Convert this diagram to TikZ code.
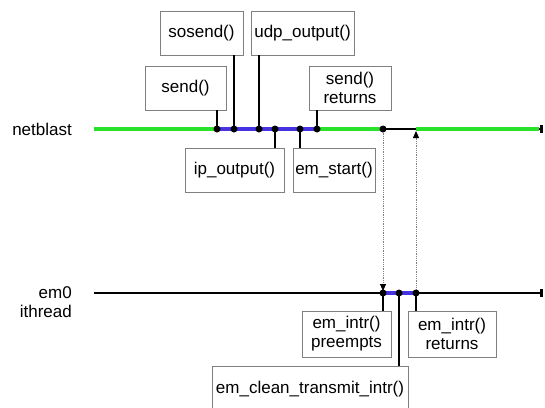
\documentclass[tikz,border=0pt]{standalone}
\usepackage{fontspec}
\setmainfont{Liberation Sans}
\usetikzlibrary{arrows.meta}
\definecolor{runcol}{RGB}{40,225,40}
\definecolor{kerncol}{RGB}{70,50,225}
\tikzset{
fn/.style={draw=gray,fill=white,line width=0.8pt,inner sep=0pt,minimum height=44pt,align=center,font=\fontsize{17}{19}\selectfont},
lbl/.style={inner sep=0pt,align=right,font=\fontsize{17}{19}\selectfont},
thread/.style={line width=2pt,draw=black,-{Rectangle[length=3pt,width=8pt]}},
running/.style={line width=4.5pt,draw=runcol},
inkernel/.style={line width=4.5pt,draw=kerncol},
tick/.style={line width=2pt,draw=black},
handoff/.style={densely dotted,draw=gray,line width=0.8pt,shorten >=2pt,
  -{Triangle[length=7pt,width=6pt,color=black,fill=black]}},
}
\tikzstyle{calldot} = [circle, minimum width=7pt, fill, inner sep=0pt]

\begin{document}
\begin{tikzpicture}[x=1pt,y=-1pt]
\useasboundingbox (0,0) rectangle (545,407);
\clip (0,0) rectangle (545,407);

% threads
\node[lbl,anchor=east] (netblast) at (72,129) {netblast};
\node[lbl,anchor=east] (em0) at (72,302) {em0\\ithread};
\coordinate (nb0) at (94,129);
\coordinate (nb1) at (543,129);
\coordinate (it0) at (94,293);
\coordinate (it1) at (543,293);

% call points
\coordinate (p1) at (217,129);
\coordinate (p2) at (234,129);
\coordinate (p3) at (259,129);
\coordinate (p4) at (275,129);
\coordinate (p5) at (300,129);
\coordinate (p6) at (317,129);
\coordinate (p7) at (383,129);
\coordinate (p8) at (416,129);
\coordinate (q1) at (383,293);
\coordinate (q2) at (399,293);
\coordinate (q3) at (416,293);

\draw[thread] (nb0) -- (nb1);
\draw[thread] (it0) -- (it1);
\draw[running] (nb0) -- (p7);
\draw[running] (p8) -- (539,129);
\draw[inkernel] (p1) -- (p6);
\draw[inkernel] (q1) -- (q3);

% boxes
\node[fn,minimum width=81pt] (send) at (185.5,88) {send()};
\node[fn,minimum width=83pt] (sosend) at (201.5,33) {sosend()};
\node[fn,minimum width=103pt] (udp) at (302.5,33) {udp\_output()};
\node[fn,minimum width=82pt] (sendret) at (350,88) {send()\\returns};
\node[fn,minimum width=99pt] (ip) at (234.5,170.5) {ip\_output()};
\node[fn,minimum width=82pt] (start) at (334,170.5) {em\_start()};
\node[fn,minimum width=89pt,minimum height=46pt] (preempt) at (346.5,334) {em\_intr()\\preempts};
\node[fn,minimum width=88pt,minimum height=46pt] (intret) at (452,334) {em\_intr()\\returns};
\node[fn,minimum width=196pt,minimum height=46pt] (clean) at (310,389) {em\_clean\_transmit\_intr()};

% connectors
\draw[tick] (send.south -| p1) -- (p1);
\draw[tick] (sosend.south -| p2) -- (p2);
\draw[tick] (udp.south -| p3) -- (p3);
\draw[tick] (ip.north -| p4) -- (p4);
\draw[tick] (start.north -| p5) -- (p5);
\draw[tick] (sendret.south -| p6) -- (p6);
\draw[tick] (preempt.north -| q1) -- (q1);
\draw[tick] (clean.north -| q2) -- (q2);
\draw[tick] (intret.north -| q3) -- (q3);

\draw[handoff] (p7) -- (q1);
\draw[handoff] (q3) -- (p8);

\foreach \p in {p1,p2,p3,p4,p5,p6,p7,q1,q2,q3}
  \node[calldot] at (\p) {};
\end{tikzpicture}
\end{document}
